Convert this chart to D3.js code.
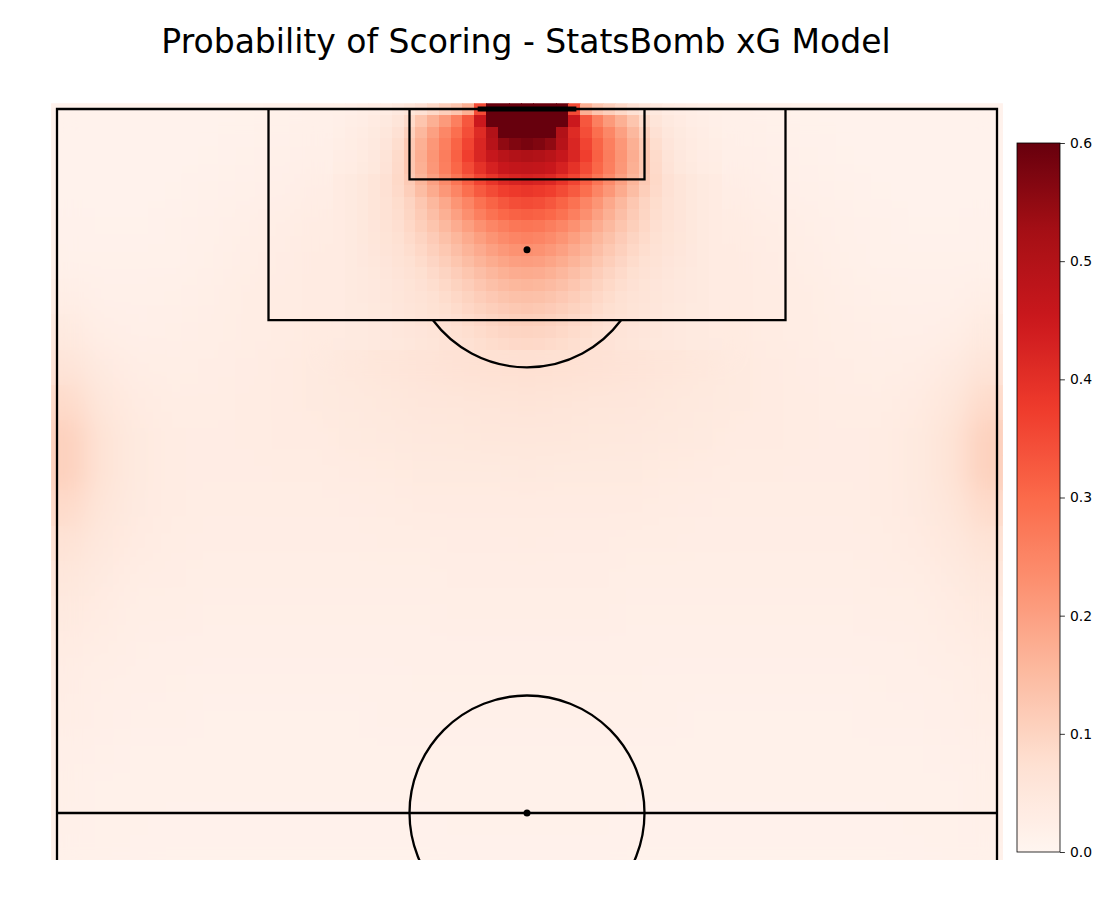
<!DOCTYPE html>
<html><head><meta charset="utf-8">
<script src="https://cdn.jsdelivr.net/npm/d3@7"></script>
<style>body{margin:0;background:#fff}svg{display:block}</style>
</head><body>
<svg id="chart" width="1100" height="906"></svg>
<script>
// ---------------- DATA ----------------
const chartTitle = "Probability of Scoring - StatsBomb xG Model";
const colorbarTicks = [0.0, 0.1, 0.2, 0.3, 0.4, 0.5, 0.6];
const N = null;
// Detail grid: 1x1 pitch-unit cells, pitch columns 24..56, rows 0..20 yards out from the goal line. xG in percent.
const xgDetail = [
 [1.9,2.1,2.4,2.8,3.3,4.2,5.5,7,9,11,13,17,35,75,80,80,80,80,80,75,35,17,13,11,9,7,5.5,4.2,3.3,2.8,2.4,2.1,1.9],
 [2.1,2.4,2.8,3.4,4.3,5.8,8.5,13,17,21,26,33,45,68,72,74,75,74,72,68,45,33,26,21,17,13,8.5,5.8,4.3,3.4,2.8,2.4,2.1],
 [2.3,2.7,3.2,3.9,5.0,7,10.5,15.5,20,24.5,29,34.5,41,50,62,64,65,64,62,50,41,34.5,29,24.5,20,15.5,10.5,7,5.0,3.9,3.2,2.7,2.3],
 [2.5,2.9,3.5,4.3,5.6,8,12,17,21.5,26,31,36,42,49,55,57,58,57,55,49,42,36,31,26,21.5,17,12,8,5.6,4.3,3.5,2.9,2.5],
 [2.7,3.1,3.7,4.6,6.0,8.5,12.5,17.5,22,26.5,31.5,37,42,46,48.5,50,50.5,50,48.5,46,42,37,31.5,26.5,22,17.5,12.5,8.5,6.0,4.6,3.7,3.1,2.7],
 [2.9,3.3,3.9,4.8,6.3,8.8,12.5,17,21.5,26,30.5,35,39.5,43,45.5,46.5,47,46.5,45.5,43,39.5,35,30.5,26,21.5,17,12.5,8.8,6.3,4.8,3.9,3.3,2.9],
 [3.5,4.0,4.8,5.7,7,9,12,16,20,24,28,32,36,39,41.5,42.5,43,42.5,41.5,39,36,32,28,24,20,16,12,9,7,5.7,4.8,4.0,3.5],
 [3.5,4.0,4.8,5.7,7,8.8,11.2,14.5,18,21.5,25,29,32.5,35,37,38,38.5,38,37,35,32.5,29,25,21.5,18,14.5,11.2,8.8,7,5.7,4.8,4.0,3.5],
 [3.5,4.0,4.8,5.7,6.8,8.2,10,12.5,15.5,18.5,22,25,28.5,31,33,34.5,35,34.5,33,31,28.5,25,22,18.5,15.5,12.5,10,8.2,6.8,5.7,4.8,4.0,3.5],
 [3.6,4.1,4.8,5.7,6.7,8,9.6,11.8,14.3,17,20,23,26,28.5,30.3,31.3,31.8,31.3,30.3,28.5,26,23,20,17,14.3,11.8,9.6,8,6.7,5.7,4.8,4.1,3.6],
 [3.6,4.1,4.8,5.6,6.5,7.7,9.2,11,13,15.3,17.7,20.2,22.6,24.7,26.3,27.5,28,27.5,26.3,24.7,22.6,20.2,17.7,15.3,13,11,9.2,7.7,6.5,5.6,4.8,4.1,3.6],
 [3.6,4.1,4.7,5.4,6.2,7.2,8.5,10,11.7,13.7,15.8,18,20.2,22.2,23.8,25,25.5,25,23.8,22.2,20.2,18,15.8,13.7,11.7,10,8.5,7.2,6.2,5.4,4.7,4.1,3.6],
 [3.6,4.0,4.6,5.2,5.9,6.8,7.9,9.2,10.7,12.4,14.3,16.2,18.1,19.9,21.4,22.5,23,22.5,21.4,19.9,18.1,16.2,14.3,12.4,10.7,9.2,7.9,6.8,5.9,5.2,4.6,4.0,3.6],
 [3.6,4.0,4.5,5.0,5.6,6.4,7.3,8.4,9.7,11.2,12.8,14.5,16.2,17.8,19.1,20.1,20.5,20.1,19.1,17.8,16.2,14.5,12.8,11.2,9.7,8.4,7.3,6.4,5.6,5.0,4.5,4.0,3.6],
 [3.6,3.9,4.3,4.8,5.3,5.9,6.7,7.6,8.7,10,11.4,12.8,14.3,15.7,16.9,17.7,18,17.7,16.9,15.7,14.3,12.8,11.4,10,8.7,7.6,6.7,5.9,5.3,4.8,4.3,3.9,3.6],
 [3.6,3.9,4.2,4.6,5.1,5.6,6.2,7.0,7.9,9,10.2,11.4,12.7,13.9,14.9,15.6,16,15.6,14.9,13.9,12.7,11.4,10.2,9,7.9,7.0,6.2,5.6,5.1,4.6,4.2,3.9,3.6],
 [3.6,3.9,4.2,4.5,4.9,5.4,5.9,6.5,7.3,8.2,9.2,10.2,11.3,12.3,13.2,13.8,14,13.8,13.2,12.3,11.3,10.2,9.2,8.2,7.3,6.5,5.9,5.4,4.9,4.5,4.2,3.9,3.6],
 [3.6,3.9,4.1,4.4,4.8,5.2,5.7,6.2,6.9,7.6,8.4,9.3,10.2,11,11.7,12.2,12.5,12.2,11.7,11,10.2,9.3,8.4,7.6,6.9,6.2,5.7,5.2,4.8,4.4,4.1,3.9,3.6],
 [3.6,3.8,4.1,4.3,4.6,5.0,5.4,5.9,6.4,7.0,7.7,8.4,9.1,9.8,10.4,10.8,11,10.8,10.4,9.8,9.1,8.4,7.7,7.0,6.4,5.9,5.4,5.0,4.6,4.3,4.1,3.8,3.6],
 [3.7,3.9,4.1,4.3,4.6,4.9,5.2,5.6,6.1,6.6,7.2,7.8,8.4,9.0,9.5,9.8,10,9.8,9.5,9.0,8.4,7.8,7.2,6.6,6.1,5.6,5.2,4.9,4.6,4.3,4.1,3.9,3.7],
 [3.8,3.9,4.1,4.3,4.5,4.8,5.1,5.4,5.8,6.3,6.8,7.3,7.8,8.2,8.6,8.9,9,8.9,8.6,8.2,7.8,7.3,6.8,6.3,5.8,5.4,5.1,4.8,4.5,4.3,4.1,3.9,3.8]
];
// Coarse grid: 3x3 pitch-unit blocks across the whole width (27 blocks) and 22 block rows. xG in percent; N = covered by detail grid.
const xgCoarse = [
 [1.0,1.0,1.0,1.0,1.1,1.2,1.4,1.7,N,N,N,N,N,N,N,N,N,N,N,1.7,1.4,1.2,1.1,1.0,1.0,1.0,1.0],
 [1.0,1.0,1.0,1.1,1.2,1.4,1.7,2.1,N,N,N,N,N,N,N,N,N,N,N,2.1,1.7,1.4,1.2,1.1,1.0,1.0,1.0],
 [1.1,1.1,1.1,1.2,1.4,1.7,2.1,2.7,N,N,N,N,N,N,N,N,N,N,N,2.7,2.1,1.7,1.4,1.2,1.1,1.1,1.1],
 [1.3,1.2,1.2,1.4,1.7,2.3,2.8,3.2,N,N,N,N,N,N,N,N,N,N,N,3.2,2.8,2.3,1.7,1.4,1.2,1.2,1.3],
 [1.6,1.4,1.4,1.6,1.9,2.6,3.1,3.4,N,N,N,N,N,N,N,N,N,N,N,3.4,3.1,2.6,1.9,1.6,1.4,1.4,1.6],
 [2.5,1.8,1.7,1.9,2.2,2.9,3.3,3.6,N,N,N,N,N,N,N,N,N,N,N,3.6,3.3,2.9,2.2,1.9,1.7,1.8,2.5],
 [4.0,2.6,2.1,2.2,2.5,2.9,3.3,3.7,N,N,N,N,N,N,N,N,N,N,N,3.7,3.3,2.9,2.5,2.2,2.1,2.6,4.0],
 [6.0,3.8,2.7,2.6,2.8,3.1,3.5,4.0,4.7,5.4,6.1,6.7,7.2,7.5,7.2,6.7,6.1,5.4,4.7,4.0,3.5,3.1,2.8,2.6,2.7,3.8,6.0],
 [8.5,5.0,3.4,3.0,3.0,3.2,3.5,3.9,4.3,4.8,5.2,5.5,5.8,5.9,5.8,5.5,5.2,4.8,4.3,3.9,3.5,3.2,3.0,3.0,3.4,5.0,8.5],
 [10.5,6.2,4.0,3.3,3.1,3.2,3.4,3.6,3.9,4.2,4.5,4.7,4.9,5.0,4.9,4.7,4.5,4.2,3.9,3.6,3.4,3.2,3.1,3.3,4.0,6.2,10.5],
 [10.5,6.2,4.0,3.3,3.1,3.1,3.2,3.3,3.5,3.7,3.9,4.0,4.1,4.2,4.1,4.0,3.9,3.7,3.5,3.3,3.2,3.1,3.1,3.3,4.0,6.2,10.5],
 [8.5,5.4,3.8,3.2,3.0,2.9,3.0,3.0,3.1,3.3,3.4,3.5,3.6,3.6,3.6,3.5,3.4,3.3,3.1,3.0,3.0,2.9,3.0,3.2,3.8,5.4,8.5],
 [6.5,4.5,3.4,3.0,2.8,2.7,2.7,2.7,2.8,2.9,3.0,3.1,3.1,3.2,3.1,3.1,3.0,2.9,2.8,2.7,2.7,2.7,2.8,3.0,3.4,4.5,6.5],
 [5.0,3.8,3.0,2.7,2.5,2.4,2.4,2.4,2.5,2.6,2.6,2.7,2.7,2.8,2.7,2.7,2.6,2.6,2.5,2.4,2.4,2.4,2.5,2.7,3.0,3.8,5.0],
 [4.0,3.2,2.6,2.4,2.3,2.2,2.2,2.2,2.2,2.3,2.3,2.4,2.4,2.4,2.4,2.4,2.3,2.3,2.2,2.2,2.2,2.2,2.3,2.4,2.6,3.2,4.0],
 [3.3,2.7,2.3,2.1,2.0,2.0,2.0,2.0,2.0,2.0,2.1,2.1,2.1,2.1,2.1,2.1,2.1,2.0,2.0,2.0,2.0,2.0,2.0,2.1,2.3,2.7,3.3],
 [2.8,2.3,2.0,1.9,1.8,1.8,1.8,1.8,1.8,1.8,1.9,1.9,1.9,1.9,1.9,1.9,1.9,1.8,1.8,1.8,1.8,1.8,1.8,1.9,2.0,2.3,2.8],
 [2.4,2.0,1.8,1.7,1.6,1.6,1.6,1.6,1.6,1.7,1.7,1.7,1.7,1.7,1.7,1.7,1.7,1.7,1.6,1.6,1.6,1.6,1.6,1.7,1.8,2.0,2.4],
 [2.1,1.8,1.6,1.5,1.5,1.5,1.5,1.5,1.5,1.5,1.5,1.6,1.6,1.6,1.6,1.6,1.5,1.5,1.5,1.5,1.5,1.5,1.5,1.5,1.6,1.8,2.1],
 [1.9,1.6,1.5,1.4,1.4,1.4,1.4,1.4,1.4,1.4,1.4,1.5,1.5,1.5,1.5,1.5,1.4,1.4,1.4,1.4,1.4,1.4,1.4,1.4,1.5,1.6,1.9],
 [1.7,1.5,1.4,1.3,1.3,1.3,1.3,1.3,1.3,1.3,1.3,1.4,1.4,1.4,1.4,1.4,1.3,1.3,1.3,1.3,1.3,1.3,1.3,1.3,1.4,1.5,1.7],
 [1.6,1.4,1.3,1.2,1.2,1.2,1.2,1.2,1.2,1.2,1.2,1.3,1.3,1.3,1.3,1.3,1.2,1.2,1.2,1.2,1.2,1.2,1.2,1.2,1.3,1.4,1.6]
];

// ---------------- LAYOUT ----------------
const svg = d3.select("#chart");
const PITCH_W = 80, GOAL_X = 120;
const x = d3.scaleLinear().domain([0, PITCH_W]).range([57, 997]);      // pitch width
const y = d3.scaleLinear().domain([GOAL_X, 60]).range([109, 813]);     // pitch length (goal at top)
const plotBottom = 860;
const redsStops = ["#fff5f0","#fee0d2","#fcbba1","#fc9272","#fb6a4a","#ef3b2c","#cb181d","#a50f15","#67000d"];
const vmax = 0.6;
const color = d3.scaleLinear()
  .domain(redsStops.map((_, i) => i * vmax / (redsStops.length - 1)))
  .range(redsStops).interpolate(d3.interpolateRgb).clamp(true);

const defs = svg.append("defs");
defs.append("clipPath").attr("id", "heatClip").append("rect")
  .attr("x", x(-0.5)).attr("y", y(GOAL_X + 0.5))
  .attr("width", x(PITCH_W + 0.5) - x(-0.5)).attr("height", plotBottom - y(GOAL_X + 0.5));
defs.append("clipPath").attr("id", "lineClip").append("rect")
  .attr("x", 0).attr("y", 0).attr("width", 1010).attr("height", plotBottom);
const soft = defs.append("filter").attr("id", "soft")
  .attr("x", -0.05).attr("y", -0.05).attr("width", 1.1).attr("height", 1.1);
soft.append("feGaussianBlur").attr("stdDeviation", 13);

const heat = svg.append("g").attr("clip-path", "url(#heatClip)");

function gridCells(grid, colStart, rowStart, size) {
  const cells = [];
  grid.forEach((row, j) => row.forEach((v, k) => {
    if (v == null) return;
    cells.push({ c0: colStart + k * size - 0.5, r0: rowStart + j * size - 0.5, size, v: v / 100 });
  }));
  return cells;
}
function drawCells(g, cells) {
  g.selectAll("rect").data(cells).join("rect")
    .attr("x", d => x(d.c0))
    .attr("y", d => y(GOAL_X - d.r0))
    .attr("width", d => x(d.c0 + d.size) - x(d.c0) + 0.7)
    .attr("height", d => y(GOAL_X - d.r0 - d.size) - y(GOAL_X - d.r0) + 0.7)
    .attr("fill", d => color(d.v));
}
const coarseCells = gridCells(xgCoarse, 0, 0, 3);
drawCells(heat.append("g").attr("shape-rendering", "crispEdges"), coarseCells);
drawCells(heat.append("g").attr("filter", "url(#soft)"), coarseCells);
drawCells(heat.append("g").attr("shape-rendering", "crispEdges"), gridCells(xgDetail, 24, 0, 1));

// ---------------- PITCH LINES ----------------
const lines = svg.append("g").attr("clip-path", "url(#lineClip)")
  .attr("fill", "none").attr("stroke", "#000").attr("stroke-width", 2.3);
const line = d3.line().x(d => x(d[0])).y(d => y(d[1]));
lines.append("path").attr("d", line([[0, 50], [0, GOAL_X], [PITCH_W, GOAL_X], [PITCH_W, 50]]));
lines.append("path").attr("d", line([[0, 60], [PITCH_W, 60]]));
lines.append("path").attr("d", line([[18, GOAL_X], [18, 102], [62, 102], [62, GOAL_X]]));
lines.append("path").attr("d", line([[30, GOAL_X], [30, 114], [50, 114], [50, GOAL_X]]));
const rArc = x(10) - x(0);
const arcPath = d3.path();
const a0 = Math.asin(6 / 10);
arcPath.arc(x(40), y(108), rArc, a0, Math.PI - a0);
lines.append("path").attr("d", arcPath.toString());
lines.append("circle").attr("cx", x(40)).attr("cy", y(60)).attr("r", rArc);
lines.append("circle").attr("cx", x(40)).attr("cy", y(108)).attr("r", 3.5).attr("fill", "#000").attr("stroke", "none");
lines.append("circle").attr("cx", x(40)).attr("cy", y(60)).attr("r", 3.5).attr("fill", "#000").attr("stroke", "none");
svg.append("rect").attr("x", x(35.8)).attr("y", y(GOAL_X) - 2.5)
  .attr("width", x(44.2) - x(35.8)).attr("height", 5).attr("fill", "#000");

// ---------------- TITLE ----------------
svg.append("text").attr("x", 526).attr("y", 53).attr("text-anchor", "middle")
  .attr("font-family", "DejaVu Sans").attr("font-size", 33).attr("fill", "#000")
  .text(chartTitle);

// ---------------- COLORBAR ----------------
const cb = { x: 1017, y: 143, w: 43, h: 709 };
const cbScale = d3.scaleLinear().domain([0, vmax]).range([cb.y + cb.h, cb.y]);
const grad = defs.append("linearGradient").attr("id", "cbGrad")
  .attr("x1", 0).attr("y1", 1).attr("x2", 0).attr("y2", 0);
d3.range(0, 1.0001, 0.02).forEach(t => {
  grad.append("stop").attr("offset", t).attr("stop-color", color(t * vmax));
});
svg.append("rect").attr("x", cb.x).attr("y", cb.y).attr("width", cb.w).attr("height", cb.h)
  .attr("fill", "url(#cbGrad)").attr("stroke", "#000").attr("stroke-width", 0.8);
const cbAxis = svg.append("g").attr("transform", `translate(${cb.x + cb.w},0)`)
  .call(d3.axisRight(cbScale).tickValues(colorbarTicks).tickFormat(d3.format(".1f")).tickSize(4.9).tickPadding(5));
cbAxis.select(".domain").remove();
cbAxis.selectAll("text").attr("font-family", "DejaVu Sans").attr("font-size", 13.9).attr("fill", "#000");
cbAxis.selectAll("line").attr("stroke", "#000").attr("stroke-width", 0.8);
</script>
</body></html>
